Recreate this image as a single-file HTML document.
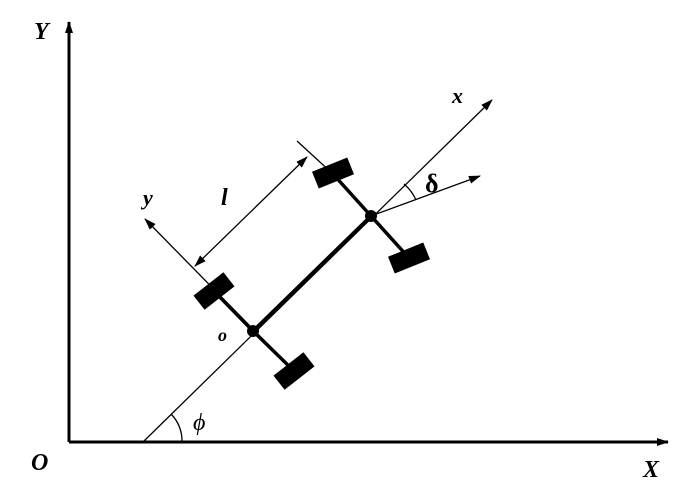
<!DOCTYPE html>
<html><head><style>body{margin:0;background:#fff}svg{display:block}</style></head><body>
<svg width="700" height="495" viewBox="0 0 700 495" xmlns="http://www.w3.org/2000/svg">
<defs>
<marker id="a" markerWidth="12" markerHeight="8" refX="11" refY="4" orient="auto" markerUnits="userSpaceOnUse"><path d="M0,0 L12,4 L0,8 z" fill="#000"/></marker>
<marker id="b" markerWidth="12" markerHeight="8" refX="11" refY="4" orient="auto-start-reverse" markerUnits="userSpaceOnUse"><path d="M0,0 L12,4 L0,8 z" fill="#000"/></marker>
</defs>
<g stroke="#000" fill="none">
<line x1="69" y1="442" x2="69" y2="22" stroke-width="3" marker-end="url(#a)"/>
<line x1="69" y1="442" x2="668" y2="442" stroke-width="3" marker-end="url(#a)"/>
<line x1="143" y1="442" x2="492" y2="100" stroke-width="1.3" marker-end="url(#a)"/>
<line x1="253" y1="331" x2="371" y2="216" stroke-width="3.5"/>
<line x1="371" y1="216" x2="480" y2="176" stroke-width="1.3" marker-end="url(#a)"/>
<line x1="294" y1="371" x2="145" y2="219" stroke-width="1.3" marker-end="url(#a)"/>
<line x1="253" y1="331" x2="214" y2="291" stroke-width="3.5"/>
<line x1="253" y1="331" x2="294" y2="371" stroke-width="3.5"/>
<line x1="371" y1="216" x2="333" y2="174" stroke-width="3.5"/>
<line x1="371" y1="216" x2="409" y2="258" stroke-width="3.5"/>
<line x1="333" y1="174" x2="297" y2="141" stroke-width="1.3"/>
<line x1="195" y1="266" x2="307" y2="157" stroke-width="1.3" marker-start="url(#b)" marker-end="url(#b)"/>
<path d="M171,414 A38,38 0 0 1 182,442" stroke-width="1.3"/>
<path d="M404,184 A44,44 0 0 1 416,200" stroke-width="1.3"/>
</g>
<g fill="#000">
<rect x="-19" y="-9" width="38" height="18" transform="translate(214,291) rotate(-38)"/>
<rect x="-19" y="-9" width="38" height="18" transform="translate(294,371) rotate(-38)"/>
<rect x="-19" y="-9" width="38" height="18" transform="translate(333,173) rotate(-22)"/>
<rect x="-19" y="-9" width="38" height="18" transform="translate(409,258) rotate(-22)"/>
<circle cx="253" cy="331" r="6"/>
<circle cx="371" cy="216" r="6"/>
</g>
<g font-family="Liberation Serif, serif" font-style="italic" font-weight="bold" font-size="24" fill="#000">
<text x="34" y="39">Y</text>
<text x="31" y="470">O</text>
<text x="643" y="477">X</text>
<text x="452" y="103" font-size="22">x</text>
<text x="143" y="205" font-size="22">y</text>
<text x="221" y="205" font-size="24">l</text>
<text x="218" y="341" font-size="18">o</text>
<text x="425" y="192" font-style="normal" font-size="26">δ</text>
<text x="193" y="430" font-weight="normal" font-size="24">ϕ</text>
</g>
</svg>
</body></html>
